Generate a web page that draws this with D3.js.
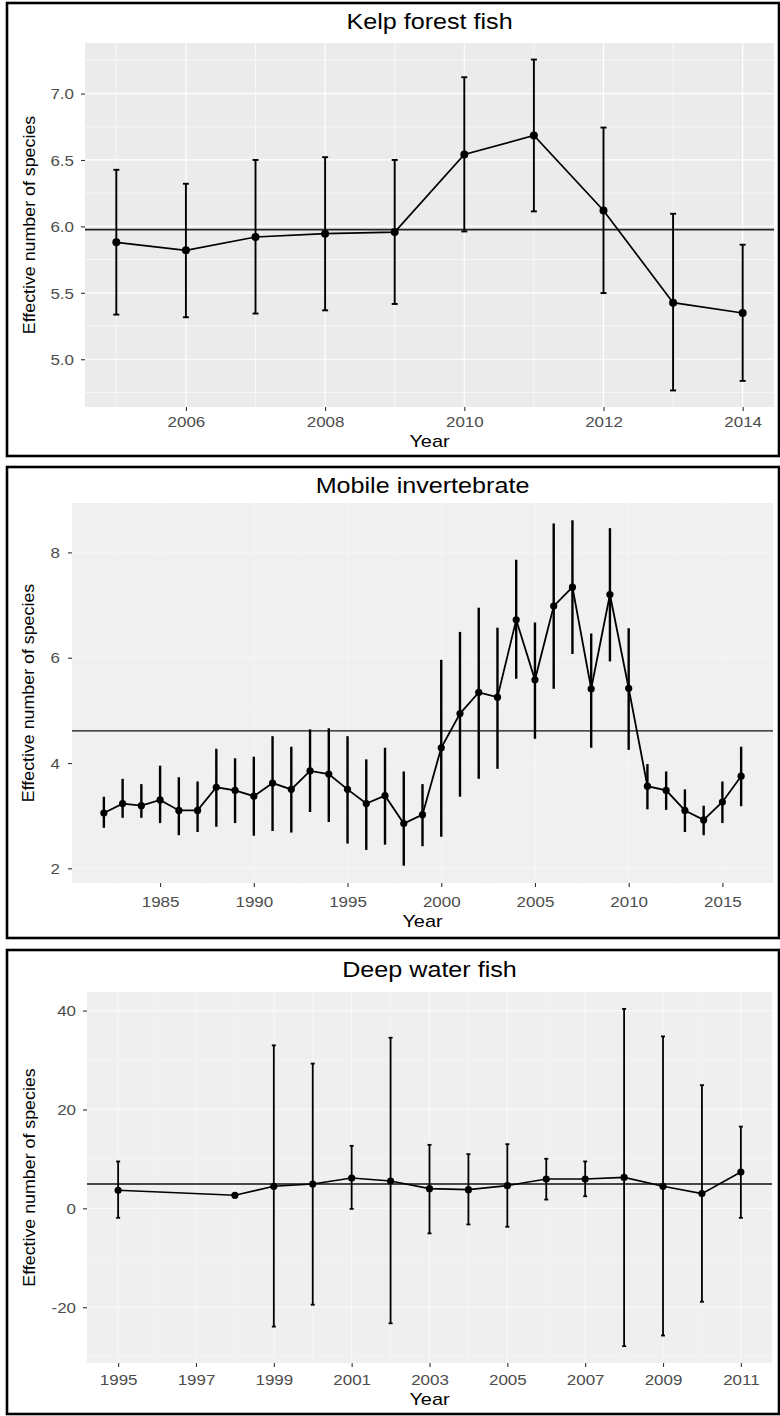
<!DOCTYPE html>
<html><head><meta charset="utf-8">
<script src="https://cdn.jsdelivr.net/npm/d3@7"></script>
<style>
body{margin:0;background:#fff}
svg{display:block}
text{font-family:"Liberation Sans",Arial,Helvetica,sans-serif}
</style>
</head><body>
<svg id="c" width="780" height="1416"></svg>
<script>
// ---------------- DATA ----------------
// Panel 1: Kelp forest fish
const kelpYears = [2005, 2006, 2007, 2008, 2009, 2010, 2011, 2012, 2013, 2014];
const kelpMean  = [5.880, 5.820, 5.920, 5.945, 5.957, 6.541, 6.684, 6.120, 5.426, 5.348];
const kelpLower = [5.336, 5.316, 5.344, 5.368, 5.416, 5.962, 6.113, 5.498, 4.765, 4.837];
const kelpUpper = [6.426, 6.321, 6.500, 6.521, 6.500, 7.123, 7.256, 6.744, 6.095, 5.862];
const kelpOverall = 5.975;
const kelpXTicks = [2006, 2008, 2010, 2012, 2014];
const kelpYTicks = [5.0, 5.5, 6.0, 6.5, 7.0];

// Panel 2: Mobile invertebrate
const invYears = [1982,1983,1984,1985,1986,1987,1988,1989,1990,1991,1992,1993,1994,1995,1996,1997,
                  1998,1999,2000,2001,2002,2003,2004,2005,2006,2007,2008,2009,2010,2011,2012,2013,2014,2015,2016];
const invMean  = [3.05,3.23,3.19,3.30,3.10,3.10,3.54,3.48,3.37,3.62,3.50,3.85,3.79,3.50,3.23,3.38,
                  2.85,3.02,4.29,4.94,5.34,5.25,6.72,5.58,6.98,7.34,5.41,7.20,5.42,3.56,3.48,3.10,2.92,3.26,3.75];
const invLower = [2.77,2.96,2.96,2.86,2.63,2.69,2.79,2.86,2.62,2.71,2.68,3.07,2.88,2.47,2.35,2.45,
                  2.05,2.42,2.60,3.36,3.70,3.89,5.60,4.46,5.41,6.07,4.29,5.93,4.25,3.12,3.11,2.69,2.63,2.86,3.18];
const invUpper = [3.36,3.70,3.60,3.95,3.73,3.65,4.27,4.09,4.12,4.51,4.31,4.64,4.66,4.51,4.07,4.29,
                  3.84,3.60,5.96,6.49,6.95,6.57,7.86,6.67,8.55,8.61,6.46,8.46,6.56,3.98,3.84,3.50,3.19,3.65,4.31];
const invOverall = 4.61;
const invXTicks = [1985, 1990, 1995, 2000, 2005, 2010, 2015];
const invYTicks = [2, 4, 6, 8];

// Panel 3: Deep water fish
const deepYears = [1995, 1998, 1999, 2000, 2001, 2002, 2003, 2004, 2005, 2006, 2007, 2008, 2009, 2010, 2011];
const deepMean  = [3.65, 2.64, 4.45, 4.92, 6.13, 5.53, 3.98, 3.78, 4.59, 5.93, 5.93, 6.26, 4.45, 2.98, 7.34];
const deepLower = [-1.92, null, -23.92, -19.49, -0.11, -23.25, -5.07, -3.26, -3.73, 1.77, 2.44, -27.87, -25.73, -18.89, -1.92];
const deepUpper = [9.48, null, 32.96, 29.27, 12.64, 34.50, 12.84, 10.96, 12.97, 10.02, 9.48, 40.34, 34.77, 24.91, 16.53];
const deepOverall = 4.92;
const deepXTicks = [1995, 1997, 1999, 2001, 2003, 2005, 2007, 2009, 2011];
const deepYTicks = [-20, 0, 20, 40];

const yLabel = "Effective number of species";
const xLabel = "Year";

// ---------------- DRAWING ----------------
const svg = d3.select("#c");
const SX = 1.17; // horizontal glyph stretch seen in the reference

function expand(lo, hi) { const s = hi - lo; return [lo - 0.05 * s, hi + 0.05 * s]; }
function minors(ticks, dom) {
  const step = ticks[1] - ticks[0], out = [];
  for (let v = ticks[0] - step / 2; v <= ticks[ticks.length - 1] + step / 2 + 1e-9; v += step) {
    if (v >= dom[0] && v <= dom[1]) out.push(v);
  }
  return out;
}
function txt(parent, x, y, str, o) {
  const gg = parent.append("g").attr("transform", `translate(${x},${y})` + (o.rotate ? ` rotate(${o.rotate})` : ""));
  gg.append("text").attr("transform", `scale(${o.sx || SX},1)`).attr("text-anchor", o.anchor || "middle")
    .attr("font-size", o.size).attr("fill", o.fill || "#000").text(str);
}

function drawPanel(p) {
  const g = svg.append("g");
  const [fx0, fy0, fx1, fy1] = p.frame;
  g.append("rect").attr("x", fx0).attr("y", fy0).attr("width", fx1 - fx0).attr("height", fy1 - fy0)
    .attr("fill", "#fff").attr("stroke", "#000").attr("stroke-width", 2.6);
  const [L, T, R, B] = p.plot;
  const xd = expand(d3.min(p.years), d3.max(p.years));
  const x = d3.scaleLinear().domain(xd).range([L, R]);
  const vals = p.mean.concat(p.lower, p.upper).filter(v => v != null);
  const yd = expand(d3.min(vals), d3.max(vals));
  const y = d3.scaleLinear().domain(yd).range([B, T]);

  g.append("rect").attr("x", L).attr("y", T).attr("width", R - L).attr("height", B - T).attr("fill", p.bg);
  const grid = g.append("g").attr("stroke", p.grid).attr("stroke-opacity", p.gridOpacity);
  minors(p.yTicks, yd).forEach(v => grid.append("line").attr("x1", L).attr("x2", R).attr("y1", y(v)).attr("y2", y(v)).attr("stroke-width", 0.6));
  minors(p.xTicks, xd).forEach(v => grid.append("line").attr("y1", T).attr("y2", B).attr("x1", x(v)).attr("x2", x(v)).attr("stroke-width", 0.6));
  p.yTicks.forEach(v => grid.append("line").attr("x1", L).attr("x2", R).attr("y1", y(v)).attr("y2", y(v)).attr("stroke-width", 1.2));
  p.xTicks.forEach(v => grid.append("line").attr("y1", T).attr("y2", B).attr("x1", x(v)).attr("x2", x(v)).attr("stroke-width", 1.2));

  // overall mean line
  g.append("line").attr("x1", L).attr("x2", R).attr("y1", y(p.overall)).attr("y2", y(p.overall))
    .attr("stroke", p.hColor).attr("stroke-width", p.hWidth);

  const rows = p.years.map((yr, i) => ({ yr, m: p.mean[i], lo: p.lower[i], hi: p.upper[i] }));
  const eb = g.append("g").attr("stroke", "#000").attr("stroke-width", p.ebWidth);
  rows.filter(d => d.lo != null).forEach(d => {
    eb.append("line").attr("x1", x(d.yr)).attr("x2", x(d.yr)).attr("y1", y(d.lo)).attr("y2", y(d.hi));
    if (p.cap > 0) {
      eb.append("line").attr("x1", x(d.yr) - p.cap).attr("x2", x(d.yr) + p.cap).attr("y1", y(d.lo)).attr("y2", y(d.lo));
      eb.append("line").attr("x1", x(d.yr) - p.cap).attr("x2", x(d.yr) + p.cap).attr("y1", y(d.hi)).attr("y2", y(d.hi));
    }
  });
  g.append("path").datum(rows).attr("fill", "none").attr("stroke", "#000").attr("stroke-width", p.lineWidth)
    .attr("d", d3.line().x(d => x(d.yr)).y(d => y(d.m)));
  g.selectAll(null).data(rows).enter().append("circle").attr("cx", d => x(d.yr)).attr("cy", d => y(d.m))
    .attr("r", p.r).attr("fill", "#000");

  // axes
  const ax = g.append("g").attr("transform", `translate(0,${B})`)
    .call(d3.axisBottom(x).tickValues(p.xTicks).tickSize(4).tickFormat(d => String(d)));
  ax.select(".domain").remove();
  ax.selectAll(".tick line").attr("stroke", "#333").attr("stroke-width", 1.1);
  ax.selectAll(".tick text").attr("y", p.xLabOff).attr("dy", null).attr("transform", `scale(${SX},1)`)
    .attr("font-size", p.tickSize).attr("fill", "#4d4d4d");
  ax.attr("font-family", null).attr("font-size", null);

  const ay = g.append("g").attr("transform", `translate(${L},0)`)
    .call(d3.axisLeft(y).tickValues(p.yTicks).tickSize(4).tickFormat(p.yFmt));
  ay.select(".domain").remove();
  ay.selectAll(".tick line").attr("stroke", "#333").attr("stroke-width", 1.1);
  ay.selectAll(".tick text").attr("x", -p.yLabGap / SX).attr("dy", "0.36em").attr("transform", `scale(${SX},1)`)
    .attr("font-size", p.tickSize).attr("fill", "#4d4d4d");
  ay.attr("font-family", null).attr("font-size", null);

  txt(g, (L + R) / 2, p.titleY, p.title, { size: 21.5 });
  txt(g, (L + R) / 2, p.xTitleY, xLabel, { size: 17 });
  txt(g, p.yTitleX, (T + B) / 2, yLabel, { size: 16.5, rotate: -90, sx: 1.08 });
}

drawPanel({
  title: "Kelp forest fish", years: kelpYears, mean: kelpMean, lower: kelpLower, upper: kelpUpper,
  overall: kelpOverall, xTicks: kelpXTicks, yTicks: kelpYTicks, yFmt: d => d.toFixed(1),
  frame: [7, 3, 779, 456], plot: [85, 43, 774, 407],
  bg: "#ebebeb", grid: "#ffffff", gridOpacity: 1,
  hColor: "#222", hWidth: 1.8, ebWidth: 1.9, cap: 3, lineWidth: 1.7, r: 4,
  xLabOff: 20, yLabGap: 11, tickSize: 14.5, titleY: 29, xTitleY: 447, yTitleX: 35
});
drawPanel({
  title: "Mobile invertebrate", years: invYears, mean: invMean, lower: invLower, upper: invUpper,
  overall: invOverall, xTicks: invXTicks, yTicks: invYTicks, yFmt: d => String(d),
  frame: [7, 467, 779, 938], plot: [72, 503, 773, 883],
  bg: "#f0f0f0", grid: "#ffffff", gridOpacity: 0.35,
  hColor: "#111", hWidth: 1.3, ebWidth: 2.4, cap: 0, lineWidth: 1.8, r: 3.6,
  xLabOff: 24, yLabGap: 12, tickSize: 14.5, titleY: 493, xTitleY: 927, yTitleX: 34
});
drawPanel({
  title: "Deep water fish", years: deepYears, mean: deepMean, lower: deepLower, upper: deepUpper,
  overall: deepOverall, xTicks: deepXTicks, yTicks: deepYTicks, yFmt: d => String(d),
  frame: [7, 950, 779, 1414], plot: [87, 992, 772, 1363],
  bg: "#efefef", grid: "#ffffff", gridOpacity: 0.6,
  hColor: "#111", hWidth: 1.3, ebWidth: 1.8, cap: 2, lineWidth: 1.6, r: 3.6,
  xLabOff: 22, yLabGap: 11, tickSize: 14.5, titleY: 977, xTitleY: 1405, yTitleX: 35
});
</script>
</body></html>
